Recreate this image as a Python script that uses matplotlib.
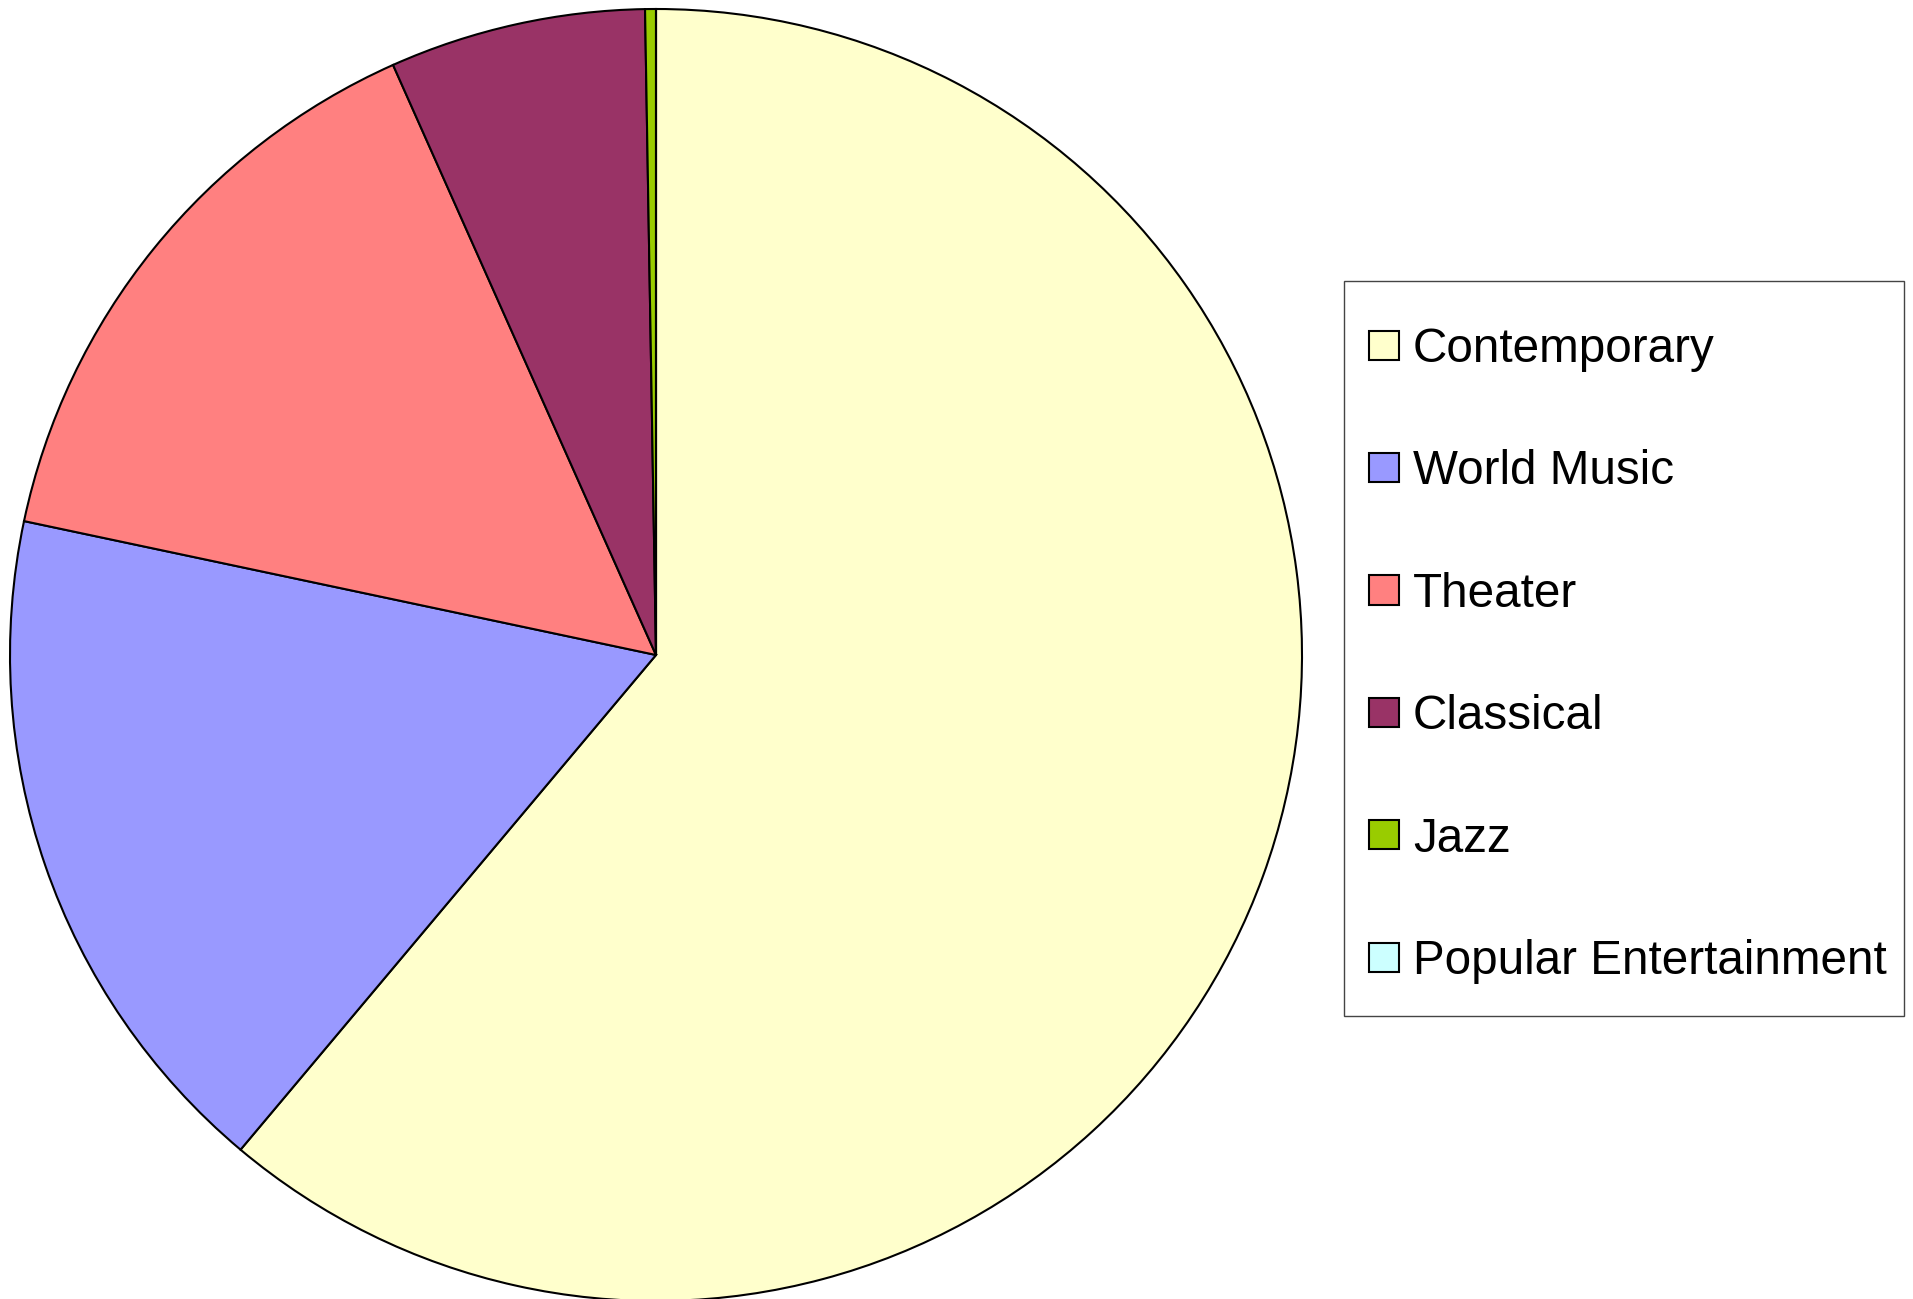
import matplotlib.pyplot as plt
from matplotlib.patches import Rectangle

# shares (percent)
labels = ['Contemporary', 'World Music', 'Theater', 'Classical', 'Jazz',
          'Popular Entertainment']
shares = [61.1, 17.2, 15.0, 6.4, 0.27, 0.0]
colors = ['#FFFFCC', '#9999FF', '#FF8080', '#993366', '#99CC00', '#CCFFFF']

plt.rcParams['font.family'] = ['Liberation Sans', 'DejaVu Sans']

W, H = 1913, 1299
fig = plt.figure(figsize=(W / 100, H / 100), dpi=100)

# pie centre (656, 655) px from top-left, radius 646 px
cx, cy, r = 656, 655, 646
ax = fig.add_axes([(cx - r) / W, (H - cy - r) / H, 2 * r / W, 2 * r / H])
wedges, _ = ax.pie(shares, colors=colors, startangle=90, counterclock=False,
                   radius=1, wedgeprops=dict(edgecolor='black', linewidth=1.5))
ax.set_xlim(-1, 1)
ax.set_ylim(-1, 1)
ax.set_aspect('equal')
ax.axis('off')

# legend frame
fig.patches.append(Rectangle((1344 / W, 1 - 1016 / H), 560 / W, 735 / H,
                             transform=fig.transFigure, fill=False,
                             edgecolor='#444444', linewidth=1.0))

fig.legend(wedges, labels, loc='upper left',
           bbox_to_anchor=(1369 / W, 1 - 327 / H), frameon=False,
           fontsize=34.3, handlelength=0.62, handleheight=0.57,
           handletextpad=0.3, labelspacing=1.625, borderpad=0,
           borderaxespad=0)

fig.savefig('out.png', dpi=100)
